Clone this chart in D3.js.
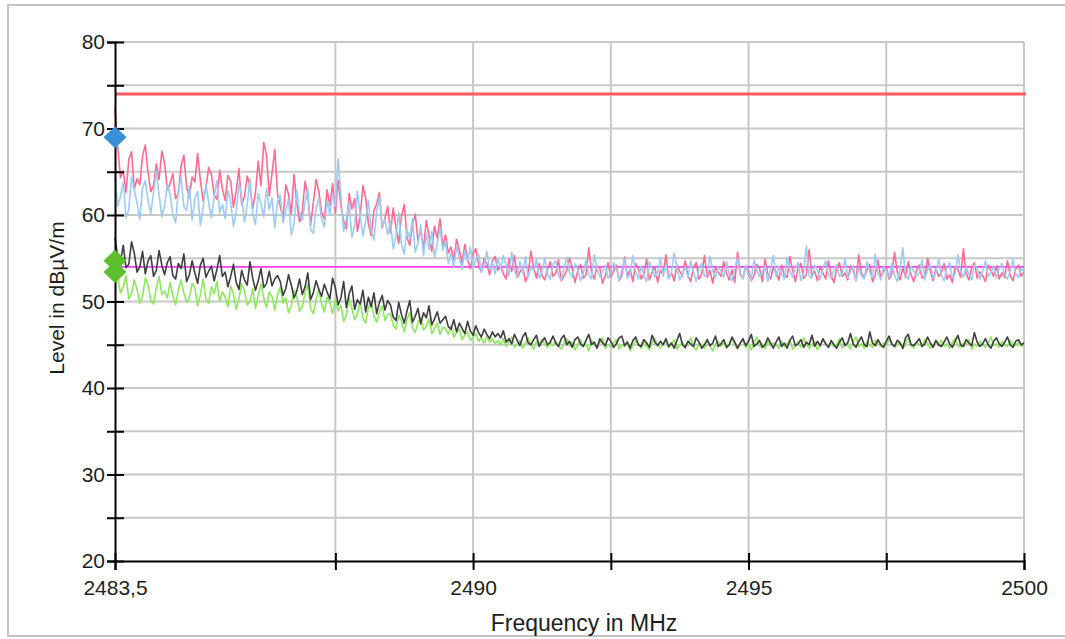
<!DOCTYPE html>
<html>
<head>
<meta charset="utf-8">
<script src="https://cdn.jsdelivr.net/npm/d3@7/dist/d3.min.js"></script>
<style>
  body { margin: 0; background: #ffffff; }
  svg { display: block; }
</style>
</head>
<body>
<div id="chart"></div>
<script>
// Frequency grid of the traces (MHz)
const freqStart = 2483.5;
const freqStep = 0.05;

// Peak traces (dBµV/m)
const peakPink = [
  72.5, 67.8, 64.3, 65.1, 62.6, 66.4, 67.3, 63.0, 64.2, 63.5, 66.8, 68.1, 64.9, 62.7, 63.4, 65.9, 64.1, 67.4, 66.0, 62.9,
  63.6, 64.8, 61.9, 62.5, 65.7, 66.9, 63.2, 62.0, 64.4, 63.8, 67.1, 64.0, 61.6, 63.1, 65.5, 64.7, 62.3, 61.8, 65.2, 63.0,
  61.7, 64.6, 63.9, 60.9, 62.8, 65.4, 61.2, 62.1, 64.5, 63.3, 60.7, 62.6, 66.2, 63.4, 68.4, 66.9, 62.2, 64.8, 67.6, 62.4,
  61.0, 59.6, 63.5, 62.4, 60.1, 64.7, 61.3, 59.2, 60.4, 63.9, 62.2, 58.8, 61.4, 64.1, 62.7, 60.3, 59.5, 62.9, 61.1, 63.6,
  60.2, 64.0, 61.1, 59.3, 58.4, 62.5, 60.7, 61.9, 58.1, 59.8, 63.4, 62.0, 59.0, 57.6, 60.5, 61.3, 62.6, 58.5, 59.6, 61.0,
  57.9, 60.8, 58.6, 56.7, 59.9, 61.2, 57.4, 56.5, 58.9, 60.1, 57.0, 58.3, 56.1, 59.4, 57.6, 55.8, 58.7, 57.3, 59.6, 56.4,
  57.7, 55.6, 56.3, 54.8, 57.2, 55.9, 54.5, 56.6, 55.0, 53.8, 55.5, 56.1, 54.2, 53.4, 55.0, 54.3, 53.1, 54.7, 55.2, 53.6,
  54.1, 53.2, 52.6, 54.9, 53.5, 55.3, 52.8, 53.4, 54.0, 52.3, 53.1, 55.8, 53.9, 52.7, 54.4, 53.0, 52.5, 53.7, 54.6, 52.9,
  53.3, 54.8, 52.4, 52.9, 53.6, 55.0, 53.8, 52.2, 53.5, 54.3, 52.7, 53.1, 56.2, 53.4, 52.6, 54.1, 53.9, 52.1, 53.0, 54.5,
  52.8, 53.5, 54.2, 52.4, 53.0, 55.1, 52.9, 53.7, 52.3, 54.4, 53.8, 52.6, 53.2, 54.9, 52.5, 53.4, 54.0, 52.2, 53.6, 53.1,
  55.4, 52.7, 53.3, 52.4, 54.2, 53.5, 52.9, 54.7, 53.0, 52.3, 53.9, 54.5, 52.6, 53.2, 55.3, 52.8, 53.6, 52.1, 54.0, 53.4,
  52.9, 54.6, 53.3, 52.5, 53.7, 52.2, 55.7, 53.1, 52.7, 54.1, 53.5, 52.4, 53.0, 54.3, 53.8, 52.3, 54.9, 53.2, 52.6, 53.9,
  53.4, 52.5, 54.2, 53.0, 52.8, 55.2, 53.6, 52.3, 53.9, 54.4, 52.7, 53.1, 56.0, 52.9, 53.5, 52.4, 54.0, 53.3, 52.6, 54.7,
  53.0, 52.2, 53.8, 54.5, 52.9, 53.3, 52.5, 54.1, 53.6, 52.4, 55.4, 53.2, 52.8, 53.7, 54.3, 52.3, 53.1, 54.8, 52.7, 53.5,
  54.0, 52.6, 53.2, 55.7, 53.4, 52.5, 53.9, 52.8, 54.6, 53.1, 52.3, 53.6, 54.2, 52.7, 53.0, 55.0, 53.5, 52.4, 53.8, 52.9,
  53.3, 54.4, 52.6, 53.1, 52.2, 54.0, 53.7, 52.8, 56.1, 53.2, 52.5, 53.9, 54.5, 52.7, 53.4, 53.0, 52.3, 54.2, 53.6, 52.9,
  54.1, 52.6, 53.3, 52.8, 54.7, 53.0, 52.4, 53.8, 54.2, 52.9, 53.5
];

const peakBlue = [
  64.5, 61.0, 62.2, 63.8, 59.7, 60.6, 64.4, 62.9, 61.4, 59.5, 63.1, 64.0, 61.7, 60.2, 62.6, 65.1, 62.3, 59.8, 61.1, 63.5,
  62.4, 60.0, 59.1, 62.9, 64.3, 61.0, 60.5, 63.4, 59.4, 61.9, 62.7, 58.8, 60.9, 63.6, 61.5, 59.7, 62.1, 64.0, 60.3, 61.2,
  59.6, 62.8, 61.5, 58.7, 60.4, 63.7, 62.1, 59.2, 61.2, 64.2, 60.0, 58.9, 62.5, 61.3, 59.8, 63.1, 60.6, 62.0, 58.5, 61.6,
  62.3, 59.1, 60.5, 61.8, 57.7, 58.9, 62.9, 60.2, 59.4, 61.4, 63.1, 58.3, 57.9, 60.8, 62.0, 59.5, 58.6, 61.7, 60.1, 62.4,
  61.0, 66.5, 62.2, 58.1, 59.6, 61.5, 57.4, 58.8, 62.8, 60.0, 57.6, 59.3, 61.7, 58.2, 57.1, 60.4, 62.1, 58.6, 59.5, 57.7,
  59.2, 56.1, 57.5, 60.3, 56.6, 55.5, 58.4, 57.2, 59.6, 55.7, 56.8, 58.9, 55.3, 57.8, 56.0, 58.1, 55.1, 56.7, 58.5, 55.9,
  56.9, 54.4, 55.6, 54.0, 56.4, 55.1, 53.7, 55.9, 54.6, 56.3, 53.9, 54.8, 55.5, 53.4, 54.2, 55.8, 53.6, 54.5, 53.2, 55.0,
  53.8, 55.3, 54.1, 53.0, 55.7, 53.5, 52.9, 54.6, 53.3, 55.2, 52.8, 54.0, 53.6, 54.9, 52.7, 53.4, 55.0, 53.1, 52.6, 54.3,
  54.7, 53.0, 52.5, 53.9, 55.1, 53.4, 52.8, 54.4, 53.7, 52.4, 53.3, 54.8, 53.1, 52.6, 55.4, 53.8, 52.9, 53.5, 54.2, 52.7,
  53.2, 54.5, 53.8, 52.4, 53.6, 54.9, 52.7, 53.1, 55.3, 53.5, 52.6, 54.1, 53.0, 52.3, 54.6, 53.7, 52.8, 53.4, 55.0, 52.9,
  54.3, 52.6, 53.3, 55.6, 53.9, 52.5, 53.2, 54.0, 52.8, 54.7, 53.4, 52.3, 53.7, 54.4, 52.9, 53.1, 55.2, 53.6, 52.7, 54.0,
  53.5, 52.8, 54.6, 53.1, 52.4, 53.8, 55.0, 53.3, 52.6, 54.2, 53.0, 52.5, 54.8, 53.6, 52.9, 53.4, 54.1, 52.3, 53.7, 55.3,
  52.9, 54.0, 53.2, 52.6, 55.1, 53.5, 52.8, 53.9, 54.5, 52.4, 53.3, 56.4, 53.0, 52.7, 54.2, 53.6, 52.5, 53.8, 54.7, 53.1,
  52.6, 53.7, 54.3, 52.9, 53.2, 55.0, 52.7, 53.5, 54.1, 52.4, 53.9, 53.0, 52.6, 54.6, 53.4, 52.8, 55.5, 53.3, 52.5, 54.0,
  53.6, 52.8, 54.4, 53.1, 52.3, 53.8, 56.2, 53.0, 52.6, 54.1, 53.5, 52.9, 53.3, 54.8, 52.5, 53.7, 54.2, 52.7, 53.4, 54.9,
  53.0, 52.4, 53.9, 54.5, 52.7, 53.2, 55.4, 53.6, 52.8, 54.0, 53.1, 52.5, 54.3, 53.8, 52.6, 53.5, 54.7, 52.9, 53.3, 54.1,
  52.7, 53.8, 54.4, 53.0, 52.6, 53.5, 54.9, 53.2, 52.8, 53.9, 53.4
];

// Average traces (dBµV/m)
const avgBlack = [
  57.4, 55.1, 54.6, 56.5, 53.9, 54.3, 56.9, 55.6, 53.4, 54.0, 55.8, 53.2, 54.7, 55.3, 52.9, 53.6, 55.9, 54.2, 53.1, 54.5,
  55.2, 53.0, 52.6, 54.4, 53.8, 55.5, 52.3, 53.1, 54.7, 53.3, 52.1, 54.2, 55.0, 52.8, 53.5, 54.1, 52.4, 53.7, 55.3, 52.9,
  53.4, 51.7, 52.9, 54.3, 52.2, 51.4, 53.6, 52.5, 51.9, 54.6, 52.7, 51.3, 52.4, 53.8, 51.6, 52.1, 53.5, 51.8, 52.6, 53.0,
  52.3, 50.7, 51.5, 53.1, 51.9, 50.4, 51.2, 52.6, 50.8, 51.7, 53.3, 50.2, 51.0, 52.4, 51.4, 50.6, 52.0, 51.1, 50.3, 52.7,
  51.6, 49.6, 50.4, 52.3, 49.3, 50.9, 51.8, 49.1, 50.2, 49.7, 51.3, 48.8, 50.5, 49.4, 51.0, 48.6, 49.9, 50.7, 49.0, 50.1,
  49.6, 48.2, 47.8, 49.9, 48.5, 47.5, 48.9, 50.1, 47.6, 48.3, 49.2, 47.4, 48.7, 48.1, 49.5, 47.3, 48.0, 48.8, 47.5, 47.9,
  48.3, 47.1, 46.8, 47.9, 46.5, 47.5, 46.9, 46.3, 47.7, 46.6, 46.1, 47.2, 46.4, 45.9, 46.8, 46.2, 45.7, 46.5, 45.9, 46.3,
  45.8, 46.6, 45.3, 45.7, 45.1, 46.2, 45.5, 44.9, 45.9, 46.4, 45.2, 45.0, 45.6, 46.1, 44.8, 45.4, 45.8, 45.0, 45.3, 46.0,
  45.2, 44.8, 45.7, 46.1, 45.0, 45.4, 44.7, 45.6, 45.9, 45.1, 44.8, 45.5, 46.2, 45.0, 45.3, 44.6, 45.7, 45.2, 44.9, 45.8,
  45.4, 44.7, 45.1, 45.8, 46.0, 44.9, 45.3, 44.6, 45.5, 45.9, 45.0, 44.8, 45.6, 45.2, 44.7, 46.1, 45.3, 44.9, 45.4, 45.0,
  45.7, 44.8, 45.2, 44.6, 45.5, 46.3, 45.0, 44.7, 45.4, 45.1, 44.8, 45.8, 45.3, 44.6, 45.0, 45.6, 44.9, 45.2, 46.0, 44.8,
  45.1, 45.6, 44.7, 45.0, 45.9, 45.3, 44.6, 45.2, 45.7, 44.9, 45.4, 46.2, 44.8, 45.1, 45.5, 44.7, 45.0, 45.8, 45.2, 44.6,
  45.3, 45.9, 44.8, 45.2, 44.6, 45.5, 46.0, 44.9, 45.1, 45.6, 44.7, 45.3, 45.0, 46.1, 44.8, 45.4, 44.9, 45.7, 45.1, 44.7,
  45.5, 45.0, 44.6, 45.3, 45.8, 44.9, 45.2, 46.3, 45.1, 44.7, 45.4, 45.9, 45.0, 44.8, 46.5, 45.2, 44.9, 45.6, 45.0, 44.7,
  45.4, 46.0, 45.1, 44.8, 45.5, 45.2, 44.6, 45.8, 46.2, 45.0, 44.9, 45.3, 45.7, 44.8, 45.1, 45.9, 45.2, 44.7, 45.5, 45.0,
  44.8, 45.3, 45.9, 45.1, 44.7, 45.4, 46.1, 45.0, 44.8, 45.6, 45.2, 44.9, 46.4, 45.3, 44.8, 45.1, 45.7, 45.0, 44.6, 45.4,
  45.8, 45.1, 44.8, 45.3, 45.9, 45.0, 44.7, 45.4, 45.6, 45.0, 45.2
];

const avgGreen = [
  54.2, 52.6, 51.0, 51.7, 53.0, 50.3, 50.9, 52.5, 51.4, 49.8, 50.6, 52.7, 51.9, 50.1, 49.7, 51.6, 52.9, 50.8, 51.2, 50.4,
  52.2, 50.7, 49.6, 51.3, 52.5, 51.0, 49.9, 50.4, 52.1, 51.6, 49.5, 50.8, 52.6, 50.2, 49.8, 51.7, 50.9, 52.3, 50.0, 51.1,
  50.5, 49.4, 51.8, 50.9, 49.1, 50.3, 52.1, 51.2, 49.6, 50.0, 51.5, 49.2, 50.7, 52.0, 50.4, 49.3, 51.1, 50.6, 49.0, 50.8,
  51.6, 49.8, 50.4, 48.7, 49.5, 51.3, 50.6, 48.9, 49.4, 51.0, 52.0, 49.2, 48.6, 50.2, 51.4, 49.7, 48.8, 50.5, 49.9, 48.6,
  50.3, 48.9, 49.6, 47.7, 48.4, 50.5, 49.2, 47.9, 48.6, 50.0, 48.1, 47.5, 49.3, 49.9, 48.3, 47.6, 48.8, 49.5, 47.8, 48.5,
  48.6, 47.3, 46.8, 48.4, 47.7, 46.5, 47.9, 48.7, 46.9, 46.4, 47.6, 48.2, 46.7, 47.1, 48.0, 46.3, 46.9, 47.5, 46.2, 47.0,
  46.9, 46.2, 47.2, 45.9, 46.4, 46.8, 45.6, 46.1, 46.5, 45.5, 45.9, 46.3, 45.4, 45.8, 45.2, 46.0, 45.3, 45.7, 45.1, 45.5,
  45.0, 45.7, 44.8, 45.3, 45.9, 44.7, 45.1, 45.5, 44.6, 45.2, 45.8, 45.0, 44.5, 45.4, 44.9, 45.6, 45.1, 44.7, 45.3, 44.9,
  45.4, 44.8, 44.5, 45.2, 45.7, 44.9, 45.3, 44.4, 45.0, 45.6, 44.8, 45.1, 44.3, 45.5, 45.0, 44.7, 45.3, 45.8, 44.6, 45.0,
  44.7, 45.2, 45.6, 44.5, 45.0, 44.8, 45.4, 44.3, 44.9, 45.5, 45.1, 44.6, 45.3, 44.8, 44.4, 45.2, 45.7, 44.9, 44.6, 45.1,
  45.4, 44.7, 45.0, 45.6, 44.5, 44.9, 45.3, 44.6, 45.1, 45.8, 44.8, 44.4, 45.2, 45.0, 44.6, 45.5, 44.9, 44.3, 45.1, 45.4,
  44.8, 45.3, 44.6, 45.0, 45.7, 44.9, 44.5, 45.2, 45.5, 44.7, 45.0, 44.4, 45.3, 45.9, 44.8, 45.1, 44.6, 45.4, 44.9, 45.2,
  45.0, 44.6, 45.4, 44.8, 45.1, 45.6, 44.5, 44.9, 45.3, 44.7, 45.8, 45.1, 44.6, 45.0, 45.4, 44.4, 44.9, 45.5, 45.2, 44.7,
  45.3, 44.8, 45.0, 45.7, 44.6, 45.2, 44.9, 44.5, 45.4, 45.9, 44.8, 45.1, 44.6, 45.3, 45.0, 44.7, 45.5, 45.1, 44.8, 45.2,
  44.9, 45.6, 45.2, 44.7, 45.0, 45.4, 44.5, 45.1, 45.8, 44.9, 44.6, 45.3, 45.0, 44.8, 45.6, 45.2, 44.6, 44.9, 45.4, 45.0,
  45.5, 44.8, 45.1, 44.6, 45.3, 45.7, 44.9, 44.7, 45.2, 45.0, 45.6, 44.5, 45.1, 44.8, 45.4, 45.0, 44.7, 45.3, 45.9, 44.9,
  45.1, 44.7, 45.4, 45.0, 44.8, 45.5, 45.1, 44.9, 45.3, 44.8, 45.0
];

// Limit lines (dBµV/m)
const limitPeak = 74;
const limitAvg = 54;

// Markers at the band edge
const markerFreq = [2483.5, 2483.5, 2483.5];
const markerLevel = [69.0, 54.7, 53.4];
const markerColor = ["#3a8fd9", "#5cc02e", "#5cc02e"];

// Axis ticks
const yTicks = [20, 25, 30, 35, 40, 45, 50, 55, 60, 65, 70, 75, 80];
const xTicks = [2483.5, 2487.5, 2490, 2492.5, 2495, 2497.5, 2500];
const xTickLabels = ["2483,5", "", "2490", "", "2495", "", "2500"];

// Dimensions
const W = 1065, H = 639;
const margin = { top: 42, right: 41, bottom: 78, left: 115 };
const width = W - margin.left - margin.right;
const height = H - margin.top - margin.bottom;
const font = "'Liberation Sans', Arial, sans-serif";
const textColor = "#1e1e1e";

const root = d3.select("#chart")
  .append("svg")
  .attr("width", W)
  .attr("height", H);

// Outer frame
root.append("rect")
  .attr("x", 8)
  .attr("y", 5)
  .attr("width", 1070)
  .attr("height", 631)
  .attr("fill", "#ffffff")
  .attr("stroke", "#c4c4c4")
  .attr("stroke-width", 2);

const svg = root.append("g")
  .attr("transform", `translate(${margin.left},${margin.top})`);

// Scales
const x = d3.scaleLinear().domain([2483.5, 2500]).range([0, width]);
const y = d3.scaleLinear().domain([20, 80]).range([height, 0]);

// Grid
svg.append("g")
  .selectAll("line")
  .data(yTicks.filter(d => d > 20))
  .enter()
  .append("line")
  .attr("x1", 0)
  .attr("x2", width)
  .attr("y1", d => y(d))
  .attr("y2", d => y(d))
  .attr("stroke", "#c8c8c8")
  .attr("stroke-width", 2);

svg.append("g")
  .selectAll("line")
  .data(xTicks.filter(d => d > 2483.5))
  .enter()
  .append("line")
  .attr("x1", d => x(d))
  .attr("x2", d => x(d))
  .attr("y1", 0)
  .attr("y2", height)
  .attr("stroke", "#c8c8c8")
  .attr("stroke-width", 2);

// Limit lines
svg.append("line")
  .attr("x1", x(2483.5))
  .attr("x2", x(2500) + 2)
  .attr("y1", y(limitPeak))
  .attr("y2", y(limitPeak))
  .attr("stroke", "#ff5a5f")
  .attr("stroke-width", 3);

svg.append("line")
  .attr("x1", x(2483.5))
  .attr("x2", x(2500))
  .attr("y1", y(limitAvg))
  .attr("y2", y(limitAvg))
  .attr("stroke", "#ff3cff")
  .attr("stroke-width", 1.8);

// Traces
const line = d3.line()
  .x((d, i) => x(freqStart + i * freqStep))
  .y(d => y(d));

const traces = [
  { values: peakPink, color: "#ff6a92" },
  { values: peakBlue, color: "#9dcaf6" },
  { values: avgGreen, color: "#8ce85c" },
  { values: avgBlack, color: "#3e3e3e" }
];

svg.selectAll(".trace")
  .data(traces)
  .enter()
  .append("path")
  .attr("class", "trace")
  .attr("fill", "none")
  .attr("stroke", d => d.color)
  .attr("stroke-width", 1.6)
  .attr("stroke-linejoin", "round")
  .attr("d", d => line(d.values));

// Y axis
const yAxis = svg.append("g")
  .call(d3.axisLeft(y)
    .tickValues(yTicks)
    .tickSize(8)
    .tickPadding(2)
    .tickFormat(d => d % 10 === 0 ? d : ""));

yAxis.select(".domain").attr("stroke", "#000").attr("stroke-width", 2);
yAxis.selectAll(".tick line").attr("x1", -8).attr("x2", 9).attr("stroke-width", 2);
yAxis.selectAll(".tick text")
  .attr("font-family", font)
  .attr("font-size", "21px")
  .attr("fill", textColor);

// X axis
const xAxis = svg.append("g")
  .attr("transform", `translate(0,${height})`)
  .call(d3.axisBottom(x)
    .tickValues(xTicks)
    .tickSize(9)
    .tickPadding(10)
    .tickFormat((d, i) => xTickLabels[i]));

xAxis.select(".domain").attr("stroke", "#000").attr("stroke-width", 2);
xAxis.selectAll(".tick line").attr("y1", -8).attr("y2", 9).attr("stroke-width", 2);
xAxis.selectAll(".tick text")
  .attr("font-family", font)
  .attr("font-size", "21px")
  .attr("fill", textColor);

// Markers (diamonds)
const diamond = "M0,-11L11.5,0L0,11L-11.5,0Z";
svg.selectAll(".marker")
  .data(markerLevel)
  .enter()
  .append("path")
  .attr("class", "marker")
  .attr("d", diamond)
  .attr("transform", (d, i) => `translate(${x(markerFreq[i])},${y(d)})`)
  .attr("fill", (d, i) => markerColor[i]);

// Axis titles
root.append("text")
  .attr("x", 584)
  .attr("y", 631)
  .attr("text-anchor", "middle")
  .attr("font-family", font)
  .attr("font-size", "23px")
  .attr("fill", textColor)
  .text("Frequency in MHz");

root.append("text")
  .attr("transform", "translate(64,298) rotate(-90)")
  .attr("text-anchor", "middle")
  .attr("font-family", font)
  .attr("font-size", "21px")
  .attr("fill", textColor)
  .text("Level in dBµV/m");
</script>
</body>
</html>
